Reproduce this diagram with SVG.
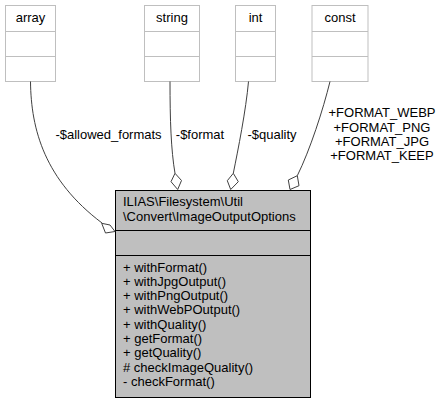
<svg xmlns="http://www.w3.org/2000/svg" width="445" height="404" viewBox="0 0 445 404">
<style>
text{font-family:"Liberation Sans",Arial,Helvetica,sans-serif;font-size:13px;fill:#000}
.ext rect{fill:#fff;stroke:#bfbfbf;stroke-width:1}
.ext line{stroke:#bfbfbf;stroke-width:1}
.main rect{fill:#bfbfbf;stroke:#000;stroke-width:1}
.main line{stroke:#000;stroke-width:1}
.e path{fill:none;stroke:#404040;stroke-width:1}
.e polygon{fill:#fff;stroke:#404040;stroke-width:1}
.c{text-anchor:middle}
</style>
<rect width="445" height="404" fill="#fff"/>
<g id="node-array" class="ext">
<rect x="5.5" y="5.5" width="50" height="76"/>
<line x1="5.5" y1="31.5" x2="55.5" y2="31.5"/>
<line x1="5.5" y1="56.5" x2="55.5" y2="56.5"/>
<text class="c" x="30.5" y="22">array</text>
</g>
<g id="node-string" class="ext">
<rect x="144.5" y="5.5" width="55" height="76"/>
<line x1="144.5" y1="31.5" x2="199.5" y2="31.5"/>
<line x1="144.5" y1="56.5" x2="199.5" y2="56.5"/>
<text class="c" x="172" y="22">string</text>
</g>
<g id="node-int" class="ext">
<rect x="235.5" y="5.5" width="40" height="76"/>
<line x1="235.5" y1="31.5" x2="275.5" y2="31.5"/>
<line x1="235.5" y1="56.5" x2="275.5" y2="56.5"/>
<text class="c" x="255.5" y="22">int</text>
</g>
<g id="node-const" class="ext">
<rect x="312" y="5.5" width="56" height="76"/>
<line x1="312" y1="31.5" x2="368" y2="31.5"/>
<line x1="312" y1="56.5" x2="368" y2="56.5"/>
<text class="c" x="340" y="22">const</text>
</g>
<g id="node-main" class="main">
<rect x="115.5" y="190.5" width="195" height="207"/>
<line x1="115.5" y1="230.5" x2="310.5" y2="230.5"/>
<line x1="115.5" y1="255.5" x2="310.5" y2="255.5"/>
<text x="123" y="206">ILIAS\Filesystem\Util</text>
<text x="123" y="220.5">\Convert\ImageOutputOptions</text>
<text x="123" y="271.5">+ withFormat()</text>
<text x="123" y="285.8">+ withJpgOutput()</text>
<text x="123" y="300.1">+ withPngOutput()</text>
<text x="123" y="314.4">+ withWebPOutput()</text>
<text x="123" y="328.7">+ withQuality()</text>
<text x="123" y="343">+ getFormat()</text>
<text x="123" y="357.3">+ getQuality()</text>
<text x="123" y="371.6"># checkImageQuality()</text>
<text x="123" y="385.9">- checkFormat()</text>
</g>
<g id="connectors" class="e">
<path d="M30.5,81.5 C31,130 45,180 102,223"/>
<polygon points="101.7,223.3 110,225 115,231.5 105.5,233"/>
<path d="M170,81.5 C170,120 171,150 175,173.3"/>
<polygon points="175,173.3 181.5,180.5 177.7,189.5 171,181.7"/>
<path d="M248.5,81.5 C246,110 238,150 233.3,173.3"/>
<polygon points="233.3,173.3 238.3,181.7 230.7,189.5 227.3,180.7"/>
<path d="M330,81.5 C323,110 310,150 297.3,175.7"/>
<polygon points="297.3,175.7 299,185.7 290,189.5 288.3,180"/>
<text class="c" x="108.5" y="139">-$allowed_formats</text>
<text class="c" x="200" y="139">-$format</text>
<text class="c" x="272" y="139">-$quality</text>
<text class="c" x="382" y="117.3">+FORMAT_WEBP</text>
<text class="c" x="382" y="131.7">+FORMAT_PNG</text>
<text class="c" x="382" y="146">+FORMAT_JPG</text>
<text class="c" x="382" y="160.4">+FORMAT_KEEP</text>
</g>
</svg>
